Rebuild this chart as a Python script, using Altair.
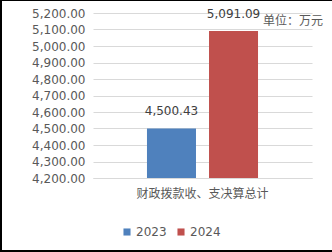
import altair as alt
import pandas as pd

category = "财政拨款收、支决算总计"
years = ["2023", "2024"]
values = [4500.43, 5091.09]
colors = ["#4F81BD", "#C0504D"]
ticks = [4200, 4300, 4400, 4500, 4600, 4700, 4800, 4900, 5000, 5100, 5200]

df = pd.DataFrame({"cat": [category] * 2, "year": years, "value": values})

W, H = 219, 165
PL, PT, PR, PB = 93, 13, 20, 74

base = alt.Chart(df)

xenc = alt.X("cat:N", title=None,
             scale=alt.Scale(paddingInner=0, paddingOuter=0),
             axis=alt.Axis(labelAngle=0, ticks=False, grid=False, domainColor="#D9D9D9",
                           labelColor="#595959", labelFontSize=12, labelPadding=10,
                           labelFont="Noto Sans CJK SC"))
xoff = alt.XOffset("year:N", scale=alt.Scale(paddingInner=0.21, paddingOuter=0.87))
yenc = alt.Y("value:Q", title=None,
             scale=alt.Scale(domain=[4200, 5200], nice=False, zero=False),
             axis=alt.Axis(format=",.2f", values=ticks, grid=True,
                           ticks=False, domain=False, gridColor="#D9D9D9",
                           labelOverlap=False, labelFlush=False,
                           labelColor="#595959", labelFontSize=12, labelPadding=8,
                           labelFont="DejaVu Sans"))

bars = base.mark_bar(clip=True).encode(
    x=xenc,
    xOffset=xoff,
    y=yenc,
    color=alt.Color("year:N", scale=alt.Scale(domain=years, range=colors),
                    legend=alt.Legend(title=None, orient="none", direction="horizontal",
                                      legendX=28, legendY=213, symbolType="square",
                                      symbolSize=50, labelFontSize=12, labelColor="#595959",
                                      labelFont="DejaVu Sans", columnPadding=8,
                                      labelOffset=3, symbolStrokeWidth=0)),
)

labels = base.mark_text(dy=-10, fontSize=12, color="#404040", font="DejaVu Sans",
                        baseline="bottom").encode(
    x=xenc,
    xOffset=xoff,
    y=yenc,
    text=alt.Text("value:Q", format=",.2f"),
)

# picture frame (left, top, bottom edges as in the reference image)
frame_src = alt.Chart(pd.DataFrame({"k": [0]}))
left_edge = frame_src.mark_rule(color="black", strokeWidth=2).encode(
    x=alt.value(-PL + 1), y=alt.value(-PT), y2=alt.value(H + PB))
top_edge = frame_src.mark_rule(color="black", strokeWidth=1).encode(
    x=alt.value(-PL), x2=alt.value(W + PR), y=alt.value(-PT + 0.5))
bottom_edge = frame_src.mark_rule(color="black", strokeWidth=2).encode(
    x=alt.value(-PL), x2=alt.value(W + PR), y=alt.value(H + PB - 1))

chart = alt.layer(bars, labels, left_edge, top_edge, bottom_edge).properties(
    width=W, height=H,
    padding={"left": PL, "top": PT, "right": PR, "bottom": PB},
    autosize=alt.AutoSizeParams(type="none"),
    title=alt.TitleParams("单位：万元", anchor="end", orient="top", frame="group",
                          dx=11, dy=33, fontSize=12, fontWeight="normal",
                          color="#595959", font="Noto Sans CJK SC"),
).configure_view(stroke=None)

chart.save("out.html", embed_options={"renderer": "svg", "actions": False})
